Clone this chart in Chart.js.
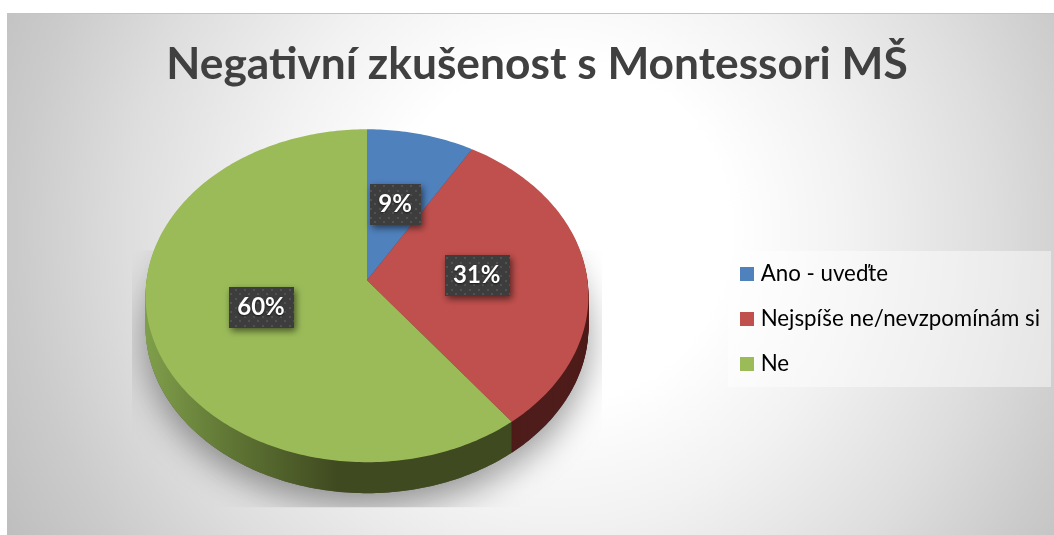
<!DOCTYPE html>
<html lang="cs">
<head>
<meta charset="utf-8">
<title>Negativní zkušenost s Montessori MŠ</title>
<script src="https://cdn.jsdelivr.net/npm/chart.js@4/dist/chart.umd.js"></script>
<style>
    html, body { margin: 0; padding: 0; background: #fff; }
    #wrap { position: relative; width: 1054px; height: 535px; overflow: hidden; }
    #bg {
        position: absolute; left: 7px; top: 13px; right: 0; bottom: 0;
        border-top: 1px solid #c4c4c4;
        background: radial-gradient(circle 640px at 553px 217px,
            #fff 0, #fff 170px, #f2f2f2 290px, #dedede 430px, #cbcbcb 540px, #bdbdbd 640px);
    }
    canvas { position: absolute; left: 0; top: 0; }
</style>
</head>
<body>
<div id="wrap">
    <div id="bg"></div>
    <canvas id="pieChart" width="1054" height="535"></canvas>
</div>
<script>
const titleText = 'Negativní zkušenost s Montessori MŠ';
const categories = ['Ano - uveďte', 'Nejspíše ne/nevzpomínám si', 'Ne'];
const values = [8.6, 31, 60.4];
const valueLabels = ['9%', '31%', '60%'];
const sliceColors = ['#4f81bd', '#c0504d', '#9bbb59'];

// tilted disc: radius on screen and a small perspective factor
const radiusX = 220.5;
const radiusY = 165;
const perspective = -0.0934;
const depth = 31;

Chart.defaults.font.family = 'Lato, Carlito, "Open Sans", sans-serif';

// wraps the canvas context so arc paths come out projected onto the tilted disc
function tiltedContext(ctx, cx, cy, r, dy) {
    const project = (x, y) => {
        const u = (x - cx) / r;
        const v = (y - cy) / r;
        const d = 1 + perspective * v;
        return [cx + radiusX * u / d, cy + radiusY * v / d + dy];
    };
    const overrides = {
        moveTo: (x, y) => ctx.moveTo(...project(x, y)),
        lineTo: (x, y) => ctx.lineTo(...project(x, y)),
        arc: (x, y, rad, a0, a1, ccw) => {
            const steps = Math.max(2, Math.ceil(Math.abs(a1 - a0) * 60));
            for (let i = 0; i <= steps; i++) {
                const a = a0 + (a1 - a0) * i / steps;
                ctx.lineTo(...project(x + rad * Math.cos(a), y + rad * Math.sin(a)));
            }
        }
    };
    return new Proxy(ctx, {
        get(target, prop) {
            if (overrides[prop]) return overrides[prop];
            const v = target[prop];
            return typeof v === 'function' ? v.bind(target) : v;
        },
        set(target, prop, value) {
            target[prop] = value;
            return true;
        }
    });
}

function drawArcWith(arc, ctx, color, dy) {
    const keep = arc.options;
    arc.options = Object.assign({}, keep, { backgroundColor: color, borderWidth: 0 });
    arc.draw(tiltedContext(ctx, arc.x, arc.y, arc.outerRadius, dy));
    arc.options = keep;
}

function dotPattern(ctx) {
    const c = document.createElement('canvas');
    c.width = 9;
    c.height = 9;
    const p = c.getContext('2d');
    p.fillStyle = '#3d3d3d';
    p.fillRect(0, 0, 9, 9);
    p.fillStyle = '#515151';
    p.fillRect(1, 1, 2, 2);
    p.fillRect(5, 5, 2, 2);
    return ctx.createPattern(c, 'repeat');
}

const pie3d = {
    id: 'pie3d',
    afterLayout(chart) {
        const legend = chart.legend;
        legend.left = 721.8;
        legend.right = 1070;
        legend.top = 196;
        legend.bottom = 442;
        chart.titleBlock.left = 20;
        chart.titleBlock.right = 1054;
    },
    beforeDraw(chart) {
        const ctx = chart.ctx;
        ctx.save();
        ctx.fillStyle = 'rgba(255,255,255,0.45)';
        ctx.fillRect(728, 251, 323, 136);
        ctx.restore();
    },
    beforeDatasetDraw(chart, args) {
        const ctx = chart.ctx;
        const arcs = args.meta.data;
        const cx = arcs[0].x;
        const cy = arcs[0].y;

        // soft shadow under the disc
        ctx.save();
        ctx.beginPath();
        ctx.rect(cx - 235, cy - 30, 470, 257);
        ctx.clip();
        ctx.shadowColor = 'rgba(0,0,0,0.4)';
        ctx.shadowBlur = 34;
        ctx.shadowOffsetY = 13;
        arcs.forEach(a => drawArcWith(a, ctx, '#555', depth));
        ctx.restore();

        // side wall, shaded left to right
        const green = ctx.createLinearGradient(cx - radiusX, 0, cx - 30, 0);
        green.addColorStop(0, '#7f9e4a');
        green.addColorStop(0.45, '#5f7534');
        green.addColorStop(1, '#404a20');
        const sides = ['#2f4d70', '#4e1c1a', green];
        for (let dy = depth; dy > 0; dy--) {
            arcs.forEach((a, i) => drawArcWith(a, ctx, sides[i], dy));
        }

        arcs.forEach((a, i) => drawArcWith(a, ctx, sliceColors[i], 0));
        return false;
    },
    afterDatasetsDraw(chart) {
        const ctx = chart.ctx;
        const arcs = chart.getDatasetMeta(0).data;
        const pattern = dotPattern(ctx);
        ctx.save();
        ctx.font = 'bold 24px Lato, Carlito, sans-serif';
        ctx.textAlign = 'center';
        ctx.textBaseline = 'middle';
        arcs.forEach((a, i) => {
            const p = a.getCenterPoint();
            const u = (p.x - a.x) / a.outerRadius;
            const v = (p.y - a.y) / a.outerRadius;
            const d = 1 + perspective * v;
            const x = a.x + radiusX * u / d;
            const y = a.y + radiusY * v / d;
            const w = ctx.measureText(valueLabels[i]).width + 17;
            const h = 41;
            ctx.save();
            ctx.shadowColor = 'rgba(0,0,0,0.55)';
            ctx.shadowBlur = 7;
            ctx.shadowOffsetX = 2;
            ctx.shadowOffsetY = 3;
            ctx.fillStyle = pattern;
            ctx.fillRect(Math.round(x - w / 2), Math.round(y - h / 2), Math.round(w), h);
            ctx.restore();
            ctx.save();
            ctx.shadowColor = 'rgba(0,0,0,0.6)';
            ctx.shadowBlur = 2;
            ctx.shadowOffsetY = 1;
            ctx.fillStyle = '#fff';
            ctx.fillText(valueLabels[i], x, y);
            ctx.restore();
        });
        ctx.restore();
    }
};

new Chart(document.getElementById('pieChart'), {
    type: 'pie',
    data: {
        labels: categories,
        datasets: [{
            data: values,
            backgroundColor: sliceColors,
            borderWidth: 0,
            radius: 221
        }]
    },
    options: {
        responsive: false,
        animation: false,
        layout: { padding: { left: 6, right: 326, top: 37, bottom: 67 } },
        plugins: {
            title: {
                display: true,
                text: titleText,
                color: '#404040',
                font: { size: 44.3, weight: 'bold', lineHeight: 1.25 },
                padding: 0
            },
            legend: {
                position: 'chartArea',
                align: 'center',
                labels: {
                    color: '#555',
                    font: { size: 22.3 },
                    boxWidth: 5,
                    boxHeight: 5,
                    padding: 22.7,
                    generateLabels: () => categories.map((text, i) => ({
                        text: text,
                        fillStyle: sliceColors[i],
                        strokeStyle: sliceColors[i],
                        lineWidth: 9,
                        index: i,
                        hidden: false
                    }))
                }
            },
            tooltip: { enabled: false }
        }
    },
    plugins: [pie3d]
});
</script>
</body>
</html>
